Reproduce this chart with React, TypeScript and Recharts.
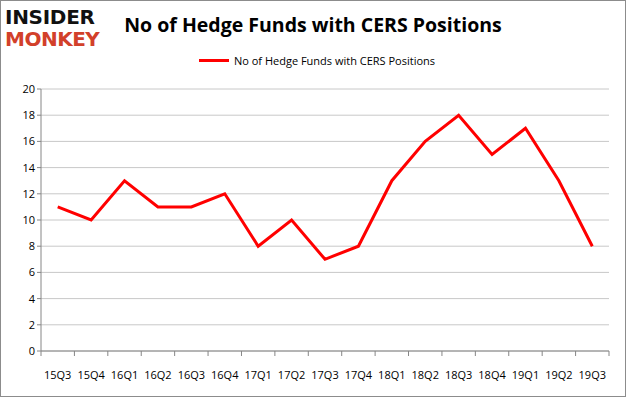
import React from "react";
import { LineChart, Line, XAxis, YAxis, CartesianGrid } from "recharts";

const quarters = ["15Q3", "15Q4", "16Q1", "16Q2", "16Q3", "16Q4", "17Q1", "17Q2", "17Q3", "17Q4", "18Q1", "18Q2", "18Q3", "18Q4", "19Q1", "19Q2", "19Q3"];
const funds = [11, 10, 13, 11, 11, 12, 8, 10, 7, 8, 13, 16, 18, 15, 17, 13, 8];
const yTicks = [0, 2, 4, 6, 8, 10, 12, 14, 16, 18, 20];

const seriesName = "No of Hedge Funds with CERS Positions";
const data = quarters.map((q, i) => ({ quarter: q, value: funds[i] }));

const font = "'Open Sans', 'Noto Sans', sans-serif";

const XTick = ({ x, y, payload, index }: any) => {
  const half = payload.offset || 16.7;
  const last = index === quarters.length - 1;
  return (
    <g>
      <line x1={x - half} x2={x - half} y1={y - 8} y2={y - 3} stroke="#868686" />
      {last && <line x1={x + half} x2={x + half} y1={y - 8} y2={y - 3} stroke="#868686" />}
      <text x={x} y={y + 20} textAnchor="middle" fontSize={11} fill="#000" fontFamily={font}>
        {payload.value}
      </text>
    </g>
  );
};

export default function App() {
  return (
    <div style={{ position: "absolute", left: 0, top: 0, width: 626, height: 397, background: "#fff" }}>
      <div style={{ position: "absolute", inset: 0, border: "1px solid #8c8c8c", boxSizing: "border-box" }} />
      <div style={{ position: "absolute", left: 5, top: 6, fontFamily: "'DejaVu Sans', sans-serif", fontWeight: 900, lineHeight: "22px" }}>
        <div style={{ fontSize: 20, color: "#111", letterSpacing: -0.3 }}>INSIDER</div>
        <div style={{ fontSize: 20, color: "#d2402a", letterSpacing: -0.5 }}>MONKEY</div>
      </div>
      <div style={{ position: "absolute", left: 113, width: 400, top: 11, textAlign: "center", fontFamily: font, fontWeight: 700, fontSize: 19.5, color: "#000" }}>
        {seriesName}
      </div>
      <div style={{ position: "absolute", left: 0, width: 626, top: 53, display: "flex", justifyContent: "center", alignItems: "center", fontFamily: font, fontSize: 11 }}>
        <div style={{ width: 30, height: 3, background: "#ff0000", marginRight: 5, marginLeft: 8 }} />
        <span>{seriesName}</span>
      </div>
      <LineChart width={626} height={397} data={data} margin={{ top: 89, right: 17, bottom: 16, left: 11 }}>
        <CartesianGrid vertical={false} stroke="#c8c8c8" />
        <XAxis
          dataKey="quarter"
          scale="band"
          interval={0}
          height={30}
          axisLine={{ stroke: "#868686" }}
          tickLine={false}
          tick={<XTick />}
        />
        <YAxis
          domain={[0, 20]}
          ticks={yTicks}
          width={30}
          axisLine={{ stroke: "#868686" }}
          tickLine={{ stroke: "#868686" }}
          tickSize={4}
          tick={{ fontSize: 11, fill: "#000", fontFamily: font }}
        />
        <Line type="linear" dataKey="value" stroke="#ff0000" strokeWidth={3} dot={false} isAnimationActive={false} />
      </LineChart>
    </div>
  );
}
